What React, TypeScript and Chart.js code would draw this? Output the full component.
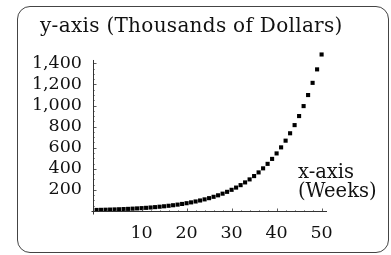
import React, { useEffect, useRef } from "react";
import { Chart, registerables } from "chart.js";

Chart.register(...registerables);

const weeks = [
  0, 1, 2, 3, 4, 5, 6, 7, 8, 9, 10, 11, 12, 13, 14, 15, 16, 17, 18, 19, 20, 21, 22, 23, 24, 25,
  26, 27, 28, 29, 30, 31, 32, 33, 34, 35, 36, 37, 38, 39, 40, 41, 42, 43, 44, 45, 46, 47, 48, 49, 50,
];
const dollars = [
  10.0, 11.1, 12.2, 13.5, 14.9, 16.5, 18.2, 20.1, 22.3, 24.6, 27.2, 30.0, 33.2, 36.7, 40.6, 44.8,
  49.5, 54.7, 60.5, 66.9, 73.9, 81.7, 90.3, 99.7, 110.2, 121.8, 134.6, 148.8, 164.4, 181.7, 200.9,
  222.0, 245.3, 271.1, 299.6, 331.2, 365.9, 404.5, 447.0, 494.0, 546.0, 603.4, 666.9, 737.0, 814.5,
  900.2, 994.8, 1099.5, 1215.1, 1342.9, 1484.1,
];
const xTicks = [10, 20, 30, 40, 50];
const yTicks = [200, 400, 600, 800, 1000, 1200, 1400];
const xMinor = [2, 4, 6, 8, 12, 14, 16, 18, 22, 24, 26, 28, 32, 34, 36, 38, 42, 44, 46, 48];
const yMinor = [50, 100, 150, 250, 300, 350, 450, 500, 550, 650, 700, 750, 850, 900, 950, 1050, 1100, 1150, 1250, 1300, 1350];
const yAxisTop = 1432;
const titleText = "y-axis (Thousands of Dollars)";
const xLabelLines = ["x-axis", "(Weeks)"];

const FONT = "'DejaVu Serif', serif";

const decor = {
  id: "decor",
  afterDraw(chart: any) {
    const { ctx, chartArea } = chart;
    const xs = chart.scales.x;
    const ys = chart.scales.y;
    ctx.save();
    // axes
    ctx.strokeStyle = "#333";
    ctx.lineWidth = 1;
    ctx.beginPath();
    const x0 = Math.round(xs.left) + 0.5;
    const y0 = Math.round(ys.getPixelForValue(0)) + 0.5;
    ctx.moveTo(x0, ys.getPixelForValue(yAxisTop));
    ctx.lineTo(x0, y0 + 3);
    ctx.moveTo(x0 - 2, y0);
    ctx.lineTo(chartArea.right, y0);
    ctx.stroke();
    // ticks
    ctx.lineWidth = 0.8;
    ctx.beginPath();
    for (const v of yTicks) {
      const p = Math.round(ys.getPixelForValue(v)) + 0.5;
      ctx.moveTo(x0, p);
      ctx.lineTo(x0 + 3, p);
    }
    for (const v of xTicks) {
      const p = Math.round(xs.getPixelForValue(v)) + 0.5;
      ctx.moveTo(p, y0);
      ctx.lineTo(p, y0 - 3);
    }
    ctx.stroke();
    ctx.lineWidth = 0.5;
    ctx.beginPath();
    for (const v of yMinor) {
      const p = Math.round(ys.getPixelForValue(v)) + 0.5;
      ctx.moveTo(x0, p);
      ctx.lineTo(x0 + 1.5, p);
    }
    for (const v of xMinor) {
      const p = Math.round(xs.getPixelForValue(v)) + 0.5;
      ctx.moveTo(p, y0);
      ctx.lineTo(p, y0 - 1.5);
    }
    ctx.stroke();
    // texts
    ctx.fillStyle = "#111";
    ctx.textAlign = "left";
    ctx.textBaseline = "alphabetic";
    ctx.font = `20px ${FONT}`;
    (ctx as any).letterSpacing = "0.3px";
    ctx.fillText(titleText, 40, 32);
    (ctx as any).letterSpacing = "0px";
    ctx.font = `19.5px ${FONT}`;
    ctx.fillText(xLabelLines[0], chartArea.right - 29, 178);
    ctx.fillText(xLabelLines[1], chartArea.right - 29, 196.5);
    ctx.restore();
  },
};

export default function App() {
  const ref = useRef<HTMLCanvasElement>(null);
  useEffect(() => {
    if (!ref.current) return;
    const chart = new Chart(ref.current, {
      type: "scatter",
      data: {
        datasets: [
          {
            data: weeks.map((w, i) => ({ x: w, y: dollars[i] })),
            pointStyle: "rect",
            pointRadius: 2.9,
            pointBorderWidth: 0,
            backgroundColor: "#000",
            borderColor: "#000",
            clip: false,
          } as any,
        ],
      },
      options: {
        animation: false,
        responsive: false,
        events: [],
        layout: { padding: { left: 0, right: 64, top: 50.7, bottom: 0 } },
        plugins: { legend: { display: false }, tooltip: { enabled: false }, title: { display: false } },
        scales: {
          x: {
            type: "linear",
            min: -0.8,
            max: 51.2,
            grid: { display: false, drawTicks: false },
            border: { display: false },
            afterBuildTicks: (s: any) => {
              s.ticks = xTicks.map((v) => ({ value: v }));
            },
            afterFit: (s: any) => {
              s.height = 44;
            },
            ticks: {
              padding: 12,
              color: "#111",
              font: { family: FONT, size: 17.5 },
              maxRotation: 0,
              autoSkip: false,
            },
          },
          y: {
            type: "linear",
            min: 0,
            max: 1520,
            grid: { display: false, drawTicks: false },
            border: { display: false },
            afterBuildTicks: (s: any) => {
              s.ticks = yTicks.map((v) => ({ value: v }));
            },
            afterFit: (s: any) => {
              s.width = 93;
            },
            ticks: {
              padding: 11,
              color: "#111",
              font: { family: FONT, size: 17.5 },
              autoSkip: false,
              callback: (v: any) => Number(v).toLocaleString("en-US"),
            },
          },
        },
      },
      plugins: [decor],
    });
    return () => chart.destroy();
  }, []);
  return (
    <div>
      <div
        style={{
          position: "absolute",
          left: 17,
          top: 6,
          width: 372,
          height: 247,
          boxSizing: "border-box",
          border: "1px solid #444",
          borderRadius: 13,
        }}
      />
      <canvas
        ref={ref}
        width={391}
        height={255}
        style={{ position: "absolute", left: 0, top: 0, width: 391, height: 255 }}
      />
    </div>
  );
}
